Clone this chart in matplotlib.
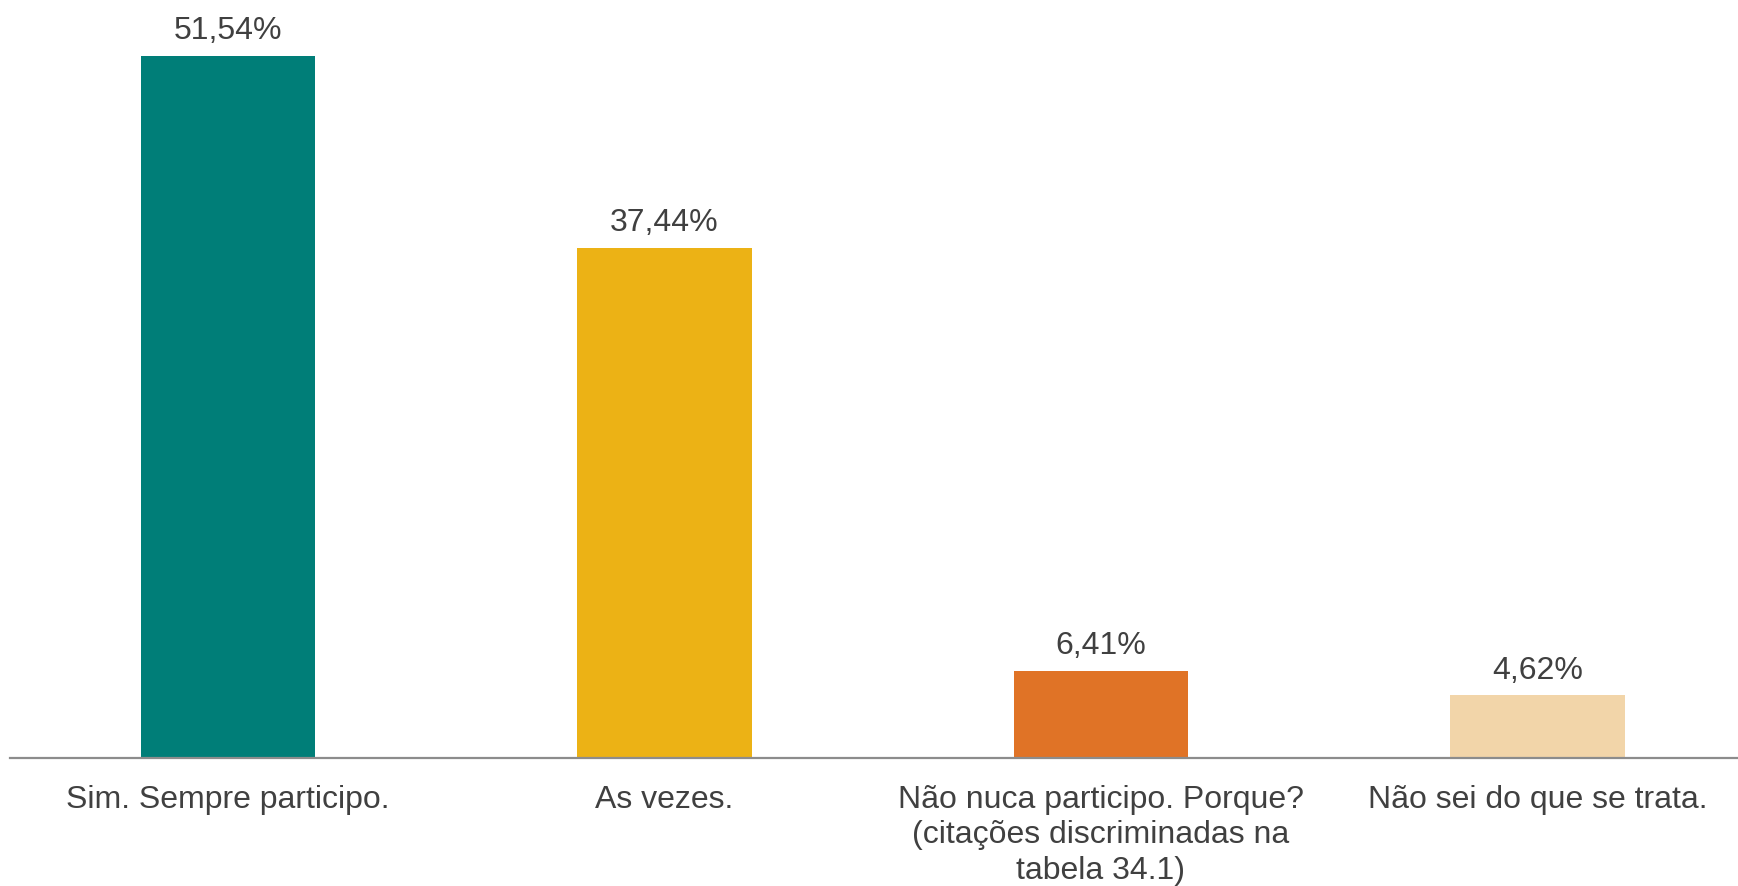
import matplotlib.pyplot as plt

plt.rcParams['font.family'] = ['Liberation Sans', 'DejaVu Sans']

categories = ['Sim. Sempre participo.',
              'As vezes.',
              'Não nuca participo. Porque?\n(citações discriminadas na\ntabela 34.1)',
              'Não sei do que se trata.']
values = [51.54, 37.44, 6.41, 4.62]
labels = ['51,54%', '37,44%', '6,41%', '4,62%']
colors = ['#007E78', '#ECB215', '#E07326', '#F2D5A9']

fig = plt.figure(figsize=(17.38, 8.87), dpi=100)
ax = fig.add_axes([10 / 1738, 128 / 887, 1 - 10 / 1738, 759 / 887])

x = range(len(values))
bars = ax.bar(x, values, width=0.40, color=colors)
for b, lab in zip(bars, labels):
    ax.annotate(lab, (b.get_x() + b.get_width() / 2, b.get_height()),
                xytext=(0, 7.5), textcoords='offset points',
                ha='center', va='bottom', fontsize=23, color='#404040')

ax.set_xlim(-0.5, 3.46)
ax.set_ylim(0, 55.7)
ax.set_xticks(list(x))
ax.set_xticklabels(categories, fontsize=23, color='#404040', linespacing=1.24)
ax.tick_params(axis='x', length=0, pad=18.5)
ax.set_yticks([])
for s in ['top', 'right', 'left']:
    ax.spines[s].set_visible(False)
ax.spines['bottom'].set_color('#8c8c8c')
ax.spines['bottom'].set_linewidth(1.6)

fig.savefig('out.png', dpi=100)
